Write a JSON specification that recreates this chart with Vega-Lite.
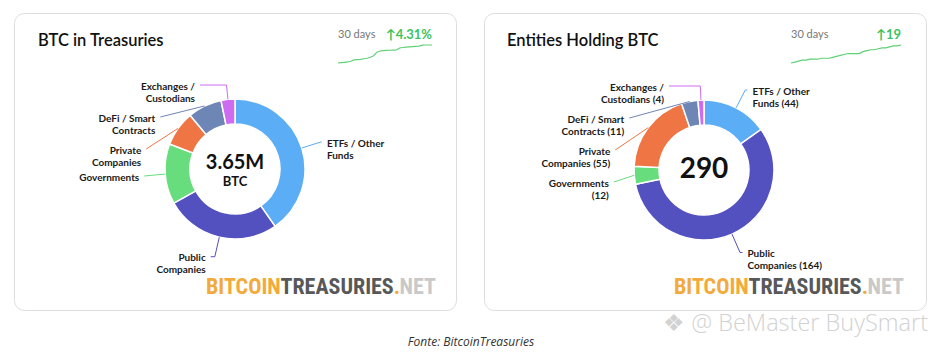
{
  "$schema": "https://vega.github.io/schema/vega-lite/v6.json",
  "background": "#ffffff",
  "padding": {"left": 13, "top": 12, "right": 5, "bottom": 5},
  "spacing": 26,
  "config": {
    "view": {"stroke": "#dddddd", "strokeWidth": 1, "cornerRadius": 10, "fill": "#ffffff"},
    "font": "Lato",
    "text": {"font": "Lato"}
  },
  "title": {"text": "Fonte: BitcoinTreasuries", "orient": "bottom", "anchor": "middle", "font": "Open Sans", "fontStyle": "italic", "fontWeight": "normal", "fontSize": 12, "color": "#333333", "offset": 1, "baseline": "top"},
  "datasets": {
    "btc": [
      {"cat": "ETFs / Other Funds", "label": "ETFs / Other\nFunds", "value": 1471000, "order": 1},
      {"cat": "Public Companies", "label": "Public\nCompanies", "value": 971000, "order": 2},
      {"cat": "Governments", "label": "Governments", "value": 507000, "order": 3},
      {"cat": "Private Companies", "label": "Private\nCompanies", "value": 296000, "order": 4},
      {"cat": "DeFi / Smart Contracts", "label": "DeFi / Smart\nContracts", "value": 288000, "order": 5},
      {"cat": "Exchanges / Custodians", "label": "Exchanges /\nCustodians", "value": 117000, "order": 6}
    ],
    "entities": [
      {"cat": "ETFs / Other Funds", "label": "ETFs / Other\nFunds (44)", "value": 44, "order": 1},
      {"cat": "Public Companies", "label": "Public\nCompanies (164)", "value": 164, "order": 2},
      {"cat": "Governments", "label": "Governments\n(12)", "value": 12, "order": 3},
      {"cat": "Private Companies", "label": "Private\nCompanies (55)", "value": 55, "order": 4},
      {"cat": "DeFi / Smart Contracts", "label": "DeFi / Smart\nContracts (11)", "value": 11, "order": 5},
      {"cat": "Exchanges / Custodians", "label": "Exchanges /\nCustodians (4)", "value": 4, "order": 6}
    ],
    "spark1": [
      {"day": 0, "v": 3.4993}, {"day": 1, "v": 3.502}, {"day": 2, "v": 3.505}, {"day": 3, "v": 3.508},
      {"day": 4, "v": 3.514}, {"day": 5, "v": 3.525}, {"day": 6, "v": 3.528}, {"day": 7, "v": 3.53},
      {"day": 8, "v": 3.535}, {"day": 9, "v": 3.539}, {"day": 10, "v": 3.547}, {"day": 11, "v": 3.56},
      {"day": 12, "v": 3.59}, {"day": 13, "v": 3.6}, {"day": 14, "v": 3.603}, {"day": 15, "v": 3.605},
      {"day": 16, "v": 3.606}, {"day": 17, "v": 3.607}, {"day": 18, "v": 3.608}, {"day": 19, "v": 3.625},
      {"day": 20, "v": 3.629}, {"day": 21, "v": 3.632}, {"day": 22, "v": 3.635}, {"day": 23, "v": 3.637},
      {"day": 24, "v": 3.639}, {"day": 25, "v": 3.641}, {"day": 26, "v": 3.649}, {"day": 27, "v": 3.65},
      {"day": 28, "v": 3.65}, {"day": 29, "v": 3.65}
    ],
    "spark2": [
      {"day": 0, "v": 271}, {"day": 1, "v": 272}, {"day": 2, "v": 273}, {"day": 3, "v": 274},
      {"day": 4, "v": 274}, {"day": 5, "v": 275}, {"day": 6, "v": 275}, {"day": 7, "v": 275},
      {"day": 8, "v": 276}, {"day": 9, "v": 276}, {"day": 10, "v": 276}, {"day": 11, "v": 277},
      {"day": 12, "v": 278}, {"day": 13, "v": 279}, {"day": 14, "v": 280}, {"day": 15, "v": 281},
      {"day": 16, "v": 281}, {"day": 17, "v": 281}, {"day": 18, "v": 281}, {"day": 19, "v": 283},
      {"day": 20, "v": 284}, {"day": 21, "v": 285}, {"day": 22, "v": 285}, {"day": 23, "v": 286},
      {"day": 24, "v": 287}, {"day": 25, "v": 287}, {"day": 26, "v": 288}, {"day": 27, "v": 289},
      {"day": 28, "v": 289}, {"day": 29, "v": 290}
    ]
  },
  "hconcat": [
    {
      "width": 442,
      "height": 297,
      "title": {"text": "BTC in Treasuries", "anchor": "start", "frame": "group", "dx": 24, "offset": -49, "baseline": "alphabetic", "fontSize": 16.5, "fontWeight": 600, "font": "Lato", "color": "#111111"},
      "resolve": {"scale": {"x": "independent", "y": "independent"}},
      "layer": [
        {
          "data": {"name": "btc"},
          "transform": [
            {"joinaggregate": [{"op": "sum", "field": "value", "as": "total"}]},
            {"window": [{"op": "sum", "field": "value", "as": "cum"}], "sort": [{"field": "order", "order": "ascending"}], "frame": [null, 0]},
            {"calculate": "2*PI*(datum.cum - datum.value/2)/datum.total", "as": "mid"},
            {"calculate": "datum.mid < PI ? 1 : -1", "as": "side"},
            {"calculate": "-90*cos(datum.mid)", "as": "dDes"},
            {"calculate": "10*length(split(datum.label, '\\n')) + 12", "as": "h"},
            {"window": [{"op": "sum", "field": "h", "as": "hcum"}], "groupby": ["side"], "sort": [{"field": "dDes", "order": "ascending"}], "frame": [null, 0]},
            {"calculate": "datum.hcum - datum.h", "as": "hpre"},
            {"calculate": "datum.dDes - datum.h/2 - datum.hpre", "as": "q"},
            {"window": [{"op": "max", "field": "q", "as": "qmax"}], "groupby": ["side"], "sort": [{"field": "dDes", "order": "ascending"}], "frame": [null, 0]},
            {"calculate": "datum.hpre + max(-100, datum.qmax) + datum.h/2", "as": "ly"},
            {"calculate": "datum.side*sqrt(max(0, 8281 - datum.ly*datum.ly))", "as": "ex"},
            {"calculate": "70*sin(datum.mid)", "as": "px"},
            {"calculate": "70*cos(datum.mid)", "as": "pyU"},
            {"calculate": "-datum.ly/cos(datum.mid)", "as": "tk"},
            {"calculate": "-datum.ly*tan(datum.mid)", "as": "ck"},
            {"calculate": "datum.tk > 0 && (datum.side > 0 ? (datum.ck >= datum.px && datum.ck <= datum.ex) : (datum.ck <= datum.px && datum.ck >= datum.ex)) ? datum.ck : datum.ex", "as": "cxk"},
            {"calculate": "-datum.ly", "as": "lyU"}
          ],
          "layer": [
            {
              "mark": {"type": "arc", "outerRadius": 70, "innerRadius": 45, "stroke": "#ffffff", "strokeWidth": 1.5},
              "encoding": {
                "theta": {"field": "value", "type": "quantitative", "stack": true},
                "order": {"field": "order", "type": "quantitative"},
                "color": {"field": "cat", "type": "nominal", "legend": null, "scale": {"domain": ["ETFs / Other Funds", "Public Companies", "Governments", "Private Companies", "DeFi / Smart Contracts", "Exchanges / Custodians"], "range": ["#5badf5", "#5350c0", "#68dd7d", "#ef7545", "#6e86b5", "#cd6cf1"]}},
                "x": {"datum": 0, "type": "quantitative", "scale": {"domain": [-221, 221], "nice": false, "zero": false}, "axis": null},
                "y": {"datum": 0, "type": "quantitative", "scale": {"domain": [-141, 156], "nice": false, "zero": false}, "axis": null}
              }
            },
            {
              "mark": {"type": "rule", "strokeWidth": 1},
              "encoding": {
                "x": {"field": "px", "type": "quantitative"},
                "y": {"field": "pyU", "type": "quantitative"},
                "x2": {"field": "cxk"},
                "y2": {"field": "lyU"},
                "color": {"field": "cat", "type": "nominal", "legend": null}
              }
            },
            {
              "mark": {"type": "rule", "strokeWidth": 1},
              "encoding": {
                "x": {"field": "cxk", "type": "quantitative"},
                "y": {"field": "lyU", "type": "quantitative"},
                "x2": {"field": "ex"},
                "y2": {"field": "lyU"},
                "color": {"field": "cat", "type": "nominal", "legend": null}
              }
            },
            {
              "transform": [{"filter": "datum.side > 0"}],
              "mark": {"type": "text", "align": "left", "baseline": "middle", "lineBreak": "\n", "lineHeight": 12, "fontSize": 10, "fontWeight": 700, "color": "#1a1a1a", "dx": 5, "dy": 1.5},
              "encoding": {
                "x": {"field": "ex", "type": "quantitative"},
                "y": {"field": "lyU", "type": "quantitative"},
                "text": {"field": "label"}
              }
            },
            {
              "transform": [{"filter": "datum.side < 0"}],
              "mark": {"type": "text", "align": "right", "baseline": "middle", "lineBreak": "\n", "lineHeight": 12, "fontSize": 10, "fontWeight": 700, "color": "#1a1a1a", "dx": -5, "dy": 1.5},
              "encoding": {
                "x": {"field": "ex", "type": "quantitative"},
                "y": {"field": "lyU", "type": "quantitative"},
                "text": {"field": "label"}
              }
            },
            {
              "transform": [{"aggregate": [{"op": "sum", "field": "value", "as": "sumv"}]}],
              "mark": {"type": "text", "align": "center", "baseline": "middle", "fontSize": 20, "fontWeight": 700, "color": "#111111", "dy": -6},
              "encoding": {
                "x": {"datum": 0, "type": "quantitative"},
                "y": {"datum": 0, "type": "quantitative"},
                "text": {"field": "sumv", "format": ".3s"}
              }
            },
            {
              "transform": [{"aggregate": [{"op": "sum", "field": "value", "as": "sumv"}]}],
              "mark": {"type": "text", "align": "center", "baseline": "middle", "fontSize": 13, "fontWeight": 700, "color": "#111111", "dy": 13},
              "encoding": {
                "x": {"datum": 0, "type": "quantitative"},
                "y": {"datum": 0, "type": "quantitative"},
                "text": {"value": "BTC"}
              }
            }
          ]
        },
        {
          "data": {"values": [{"site": "BitcoinTreasuries.net"}]},
          "encoding": {
            "x": {"datum": -29, "type": "quantitative", "scale": {"domain": [-221, 221], "nice": false, "zero": false}, "axis": null},
            "y": {"datum": -125, "type": "quantitative", "scale": {"domain": [-141, 156], "nice": false, "zero": false}, "axis": null}
          },
          "layer": [
            {"mark": {"type": "text", "align": "left", "baseline": "alphabetic", "font": "Roboto Condensed, Liberation Sans Narrow, Arial Narrow, sans-serif", "fontWeight": 700, "fontSize": 22, "color": "#f3aa3b", "text": "BITCOIN"}},
            {"mark": {"type": "text", "align": "left", "baseline": "alphabetic", "font": "Roboto Condensed, Liberation Sans Narrow, Arial Narrow, sans-serif", "fontWeight": 700, "fontSize": 22, "color": "#57585a", "text": "TREASURIES", "dx": 74.5}},
            {"mark": {"type": "text", "align": "left", "baseline": "alphabetic", "font": "Roboto Condensed, Liberation Sans Narrow, Arial Narrow, sans-serif", "fontWeight": 700, "fontSize": 22, "color": "#f3aa3b", "text": ".", "dx": 187.8}},
            {"mark": {"type": "text", "align": "left", "baseline": "alphabetic", "font": "Roboto Condensed, Liberation Sans Narrow, Arial Narrow, sans-serif", "fontWeight": 700, "fontSize": 22, "color": "#c9c9c9", "text": "NET", "dx": 193.5}}
          ]
        },
        {
          "data": {"name": "spark1"},
          "layer": [
            {
              "mark": {"type": "line", "color": "#5fd177", "strokeWidth": 1.2},
              "encoding": {
                "x": {"field": "day", "type": "quantitative", "scale": {"domain": [0, 29], "range": [324, 418], "nice": false, "zero": false}, "axis": null},
                "y": {"field": "v", "type": "quantitative", "scale": {"range": [50, 32], "nice": false, "zero": false}, "axis": null}
              }
            },
            {
              "transform": [{"aggregate": [{"op": "min", "field": "day", "as": "d0"}, {"op": "max", "field": "v", "as": "vmax"}]}],
              "mark": {"type": "text", "align": "left", "baseline": "middle", "dy": -10, "fontSize": 11, "color": "#777777"},
              "encoding": {
                "x": {"field": "d0", "type": "quantitative"},
                "y": {"field": "vmax", "type": "quantitative"},
                "text": {"value": "30 days"}
              }
            },
            {
              "transform": [
                {"aggregate": [{"op": "max", "field": "day", "as": "d1"}, {"op": "max", "field": "v", "as": "vmax"}, {"op": "min", "field": "v", "as": "vmin"}]},
                {"calculate": "'↑' + format((datum.vmax - datum.vmin)/datum.vmin, '.2%')", "as": "chg"}
              ],
              "mark": {"type": "text", "align": "right", "baseline": "middle", "dy": -10, "fontSize": 13, "fontWeight": 700, "color": "#3dc25c"},
              "encoding": {
                "x": {"field": "d1", "type": "quantitative"},
                "y": {"field": "vmax", "type": "quantitative"},
                "text": {"field": "chg"}
              }
            }
          ]
        }
      ]
    },
    {
      "width": 442,
      "height": 297,
      "title": {"text": "Entities Holding BTC", "anchor": "start", "frame": "group", "dx": 23, "offset": -49, "baseline": "alphabetic", "fontSize": 16.5, "fontWeight": 600, "font": "Lato", "color": "#111111"},
      "resolve": {"scale": {"x": "independent", "y": "independent"}},
      "layer": [
        {
          "data": {"name": "entities"},
          "transform": [
            {"joinaggregate": [{"op": "sum", "field": "value", "as": "total"}]},
            {"window": [{"op": "sum", "field": "value", "as": "cum"}], "sort": [{"field": "order", "order": "ascending"}], "frame": [null, 0]},
            {"calculate": "2*PI*(datum.cum - datum.value/2)/datum.total", "as": "mid"},
            {"calculate": "datum.mid < PI ? 1 : -1", "as": "side"},
            {"calculate": "-90*cos(datum.mid)", "as": "dDes"},
            {"calculate": "10*length(split(datum.label, '\\n')) + 12", "as": "h"},
            {"window": [{"op": "sum", "field": "h", "as": "hcum"}], "groupby": ["side"], "sort": [{"field": "dDes", "order": "ascending"}], "frame": [null, 0]},
            {"calculate": "datum.hcum - datum.h", "as": "hpre"},
            {"calculate": "datum.dDes - datum.h/2 - datum.hpre", "as": "q"},
            {"window": [{"op": "max", "field": "q", "as": "qmax"}], "groupby": ["side"], "sort": [{"field": "dDes", "order": "ascending"}], "frame": [null, 0]},
            {"calculate": "datum.hpre + max(-100, datum.qmax) + datum.h/2", "as": "ly"},
            {"calculate": "datum.side*sqrt(max(0, 8281 - datum.ly*datum.ly))", "as": "ex"},
            {"calculate": "70*sin(datum.mid)", "as": "px"},
            {"calculate": "70*cos(datum.mid)", "as": "pyU"},
            {"calculate": "-datum.ly/cos(datum.mid)", "as": "tk"},
            {"calculate": "-datum.ly*tan(datum.mid)", "as": "ck"},
            {"calculate": "datum.tk > 0 && (datum.side > 0 ? (datum.ck >= datum.px && datum.ck <= datum.ex) : (datum.ck <= datum.px && datum.ck >= datum.ex)) ? datum.ck : datum.ex", "as": "cxk"},
            {"calculate": "-datum.ly", "as": "lyU"}
          ],
          "layer": [
            {
              "mark": {"type": "arc", "outerRadius": 70, "innerRadius": 45, "stroke": "#ffffff", "strokeWidth": 1.5},
              "encoding": {
                "theta": {"field": "value", "type": "quantitative", "stack": true},
                "order": {"field": "order", "type": "quantitative"},
                "color": {"field": "cat", "type": "nominal", "legend": null, "scale": {"domain": ["ETFs / Other Funds", "Public Companies", "Governments", "Private Companies", "DeFi / Smart Contracts", "Exchanges / Custodians"], "range": ["#5badf5", "#5350c0", "#68dd7d", "#ef7545", "#6e86b5", "#cd6cf1"]}},
                "x": {"datum": 0, "type": "quantitative", "scale": {"domain": [-220, 222], "nice": false, "zero": false}, "axis": null},
                "y": {"datum": 0, "type": "quantitative", "scale": {"domain": [-140, 157], "nice": false, "zero": false}, "axis": null}
              }
            },
            {
              "mark": {"type": "rule", "strokeWidth": 1},
              "encoding": {
                "x": {"field": "px", "type": "quantitative"},
                "y": {"field": "pyU", "type": "quantitative"},
                "x2": {"field": "cxk"},
                "y2": {"field": "lyU"},
                "color": {"field": "cat", "type": "nominal", "legend": null}
              }
            },
            {
              "mark": {"type": "rule", "strokeWidth": 1},
              "encoding": {
                "x": {"field": "cxk", "type": "quantitative"},
                "y": {"field": "lyU", "type": "quantitative"},
                "x2": {"field": "ex"},
                "y2": {"field": "lyU"},
                "color": {"field": "cat", "type": "nominal", "legend": null}
              }
            },
            {
              "transform": [{"filter": "datum.side > 0"}],
              "mark": {"type": "text", "align": "left", "baseline": "middle", "lineBreak": "\n", "lineHeight": 12, "fontSize": 10, "fontWeight": 700, "color": "#1a1a1a", "dx": 5, "dy": 1.5},
              "encoding": {
                "x": {"field": "ex", "type": "quantitative"},
                "y": {"field": "lyU", "type": "quantitative"},
                "text": {"field": "label"}
              }
            },
            {
              "transform": [{"filter": "datum.side < 0"}],
              "mark": {"type": "text", "align": "right", "baseline": "middle", "lineBreak": "\n", "lineHeight": 12, "fontSize": 10, "fontWeight": 700, "color": "#1a1a1a", "dx": -5, "dy": 1.5},
              "encoding": {
                "x": {"field": "ex", "type": "quantitative"},
                "y": {"field": "lyU", "type": "quantitative"},
                "text": {"field": "label"}
              }
            },
            {
              "transform": [{"aggregate": [{"op": "sum", "field": "value", "as": "sumv"}]}],
              "mark": {"type": "text", "align": "center", "baseline": "middle", "fontSize": 28, "fontWeight": 700, "color": "#111111"},
              "encoding": {
                "x": {"datum": 0, "type": "quantitative"},
                "y": {"datum": 0, "type": "quantitative"},
                "text": {"field": "sumv", "format": "d"}
              }
            }
          ]
        },
        {
          "data": {"values": [{"site": "BitcoinTreasuries.net"}]},
          "encoding": {
            "x": {"datum": -30, "type": "quantitative", "scale": {"domain": [-220, 222], "nice": false, "zero": false}, "axis": null},
            "y": {"datum": -124, "type": "quantitative", "scale": {"domain": [-140, 157], "nice": false, "zero": false}, "axis": null}
          },
          "layer": [
            {"mark": {"type": "text", "align": "left", "baseline": "alphabetic", "font": "Roboto Condensed, Liberation Sans Narrow, Arial Narrow, sans-serif", "fontWeight": 700, "fontSize": 22, "color": "#f3aa3b", "text": "BITCOIN"}},
            {"mark": {"type": "text", "align": "left", "baseline": "alphabetic", "font": "Roboto Condensed, Liberation Sans Narrow, Arial Narrow, sans-serif", "fontWeight": 700, "fontSize": 22, "color": "#57585a", "text": "TREASURIES", "dx": 74.5}},
            {"mark": {"type": "text", "align": "left", "baseline": "alphabetic", "font": "Roboto Condensed, Liberation Sans Narrow, Arial Narrow, sans-serif", "fontWeight": 700, "fontSize": 22, "color": "#f3aa3b", "text": ".", "dx": 187.8}},
            {"mark": {"type": "text", "align": "left", "baseline": "alphabetic", "font": "Roboto Condensed, Liberation Sans Narrow, Arial Narrow, sans-serif", "fontWeight": 700, "fontSize": 22, "color": "#c9c9c9", "text": "NET", "dx": 193.5}}
          ]
        },
        {
          "data": {"values": [{"mark": "watermark"}]},
          "mark": {"type": "text", "align": "right", "baseline": "middle", "font": "Open Sans", "fontWeight": 300, "fontSize": 23.5, "color": "#d2d2d2", "text": "❖ @ BeMaster BuySmart"},
          "encoding": {
            "x": {"datum": 224, "type": "quantitative", "scale": {"domain": [-220, 222], "nice": false, "zero": false}, "axis": null},
            "y": {"datum": -154, "type": "quantitative", "scale": {"domain": [-140, 157], "nice": false, "zero": false}, "axis": null}
          }
        },
        {
          "data": {"name": "spark2"},
          "layer": [
            {
              "mark": {"type": "line", "color": "#5fd177", "strokeWidth": 1.2},
              "encoding": {
                "x": {"field": "day", "type": "quantitative", "scale": {"domain": [0, 29], "range": [307, 417], "nice": false, "zero": false}, "axis": null},
                "y": {"field": "v", "type": "quantitative", "scale": {"range": [50, 32], "nice": false, "zero": false}, "axis": null}
              }
            },
            {
              "transform": [{"aggregate": [{"op": "min", "field": "day", "as": "d0"}, {"op": "max", "field": "v", "as": "vmax"}]}],
              "mark": {"type": "text", "align": "left", "baseline": "middle", "dy": -10, "fontSize": 11, "color": "#777777"},
              "encoding": {
                "x": {"field": "d0", "type": "quantitative"},
                "y": {"field": "vmax", "type": "quantitative"},
                "text": {"value": "30 days"}
              }
            },
            {
              "transform": [
                {"aggregate": [{"op": "max", "field": "day", "as": "d1"}, {"op": "max", "field": "v", "as": "vmax"}, {"op": "min", "field": "v", "as": "vmin"}]},
                {"calculate": "'↑' + format(datum.vmax - datum.vmin, 'd')", "as": "chg"}
              ],
              "mark": {"type": "text", "align": "right", "baseline": "middle", "dy": -10, "fontSize": 13, "fontWeight": 700, "color": "#3dc25c"},
              "encoding": {
                "x": {"field": "d1", "type": "quantitative"},
                "y": {"field": "vmax", "type": "quantitative"},
                "text": {"field": "chg"}
              }
            }
          ]
        }
      ]
    }
  ]
}
